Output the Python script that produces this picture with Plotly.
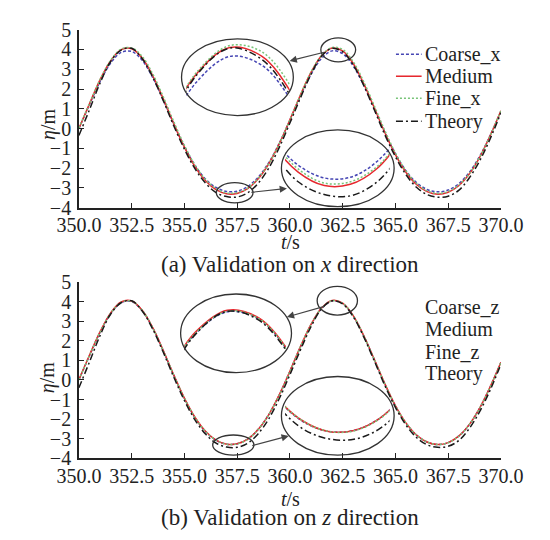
import plotly.graph_objects as go

# ---------------- data ----------------
t_s = [350.0, 350.5, 351.0, 351.5, 352.0, 352.5, 353.0, 353.5, 354.0, 354.5,
       355.0, 355.5, 356.0, 356.5, 357.0, 357.5, 358.0, 358.5, 359.0, 359.5,
       360.0, 360.5, 361.0, 361.5, 362.0, 362.5, 363.0, 363.5, 364.0, 364.5,
       365.0, 365.5, 366.0, 366.5, 367.0, 367.5, 368.0, 368.5, 369.0, 369.5, 370.0]

coarse_x = [0.00, 1.21, 2.37, 3.30, 3.85, 3.90, 3.45, 2.58, 1.45, 0.23,
            -0.91, -1.85, -2.55, -2.98, -3.18, -3.17, -2.93, -2.45, -1.72, -0.73,
            0.42, 1.64, 2.74, 3.55, 3.93, 3.79, 3.17, 2.19, 1.01, -0.19,
            -1.27, -2.13, -2.73, -3.08, -3.20, -3.11, -2.79, -2.22, -1.39, -0.33, 0.87]
medium = [0.00, 1.25, 2.46, 3.42, 3.99, 4.04, 3.57, 2.67, 1.50, 0.24,
          -0.94, -1.92, -2.64, -3.09, -3.30, -3.28, -3.04, -2.54, -1.78, -0.76,
          0.44, 1.70, 2.84, 3.68, 4.07, 3.93, 3.29, 2.27, 1.05, -0.20,
          -1.32, -2.21, -2.83, -3.19, -3.32, -3.22, -2.89, -2.30, -1.44, -0.34, 0.90]
fine_x = [0.02, 1.26, 2.47, 3.44, 4.02, 4.08, 3.65, 2.76, 1.60, 0.34,
          -0.85, -1.84, -2.58, -3.04, -3.26, -3.24, -3.01, -2.52, -1.77, -0.76,
          0.44, 1.70, 2.85, 3.70, 4.10, 4.00, 3.38, 2.37, 1.15, -0.10,
          -1.23, -2.14, -2.78, -3.15, -3.28, -3.19, -2.87, -2.29, -1.44, -0.35, 0.90]
theory = [-0.35, 0.95, 2.30, 3.38, 3.97, 4.06, 3.53, 2.60, 1.41, 0.13,
          -1.04, -2.03, -2.76, -3.24, -3.44, -3.46, -3.25, -2.76, -2.00, -0.95,
          0.28, 1.55, 2.74, 3.66, 4.06, 3.88, 3.22, 2.18, 0.95, -0.31,
          -1.42, -2.33, -2.97, -3.34, -3.47, -3.42, -3.13, -2.50, -1.62, -0.50, 0.80]

coarse_z = [0.01, 1.24, 2.44, 3.40, 3.96, 4.02, 3.56, 2.66, 1.49, 0.23,
            -0.95, -1.93, -2.64, -3.09, -3.29, -3.27, -3.03, -2.53, -1.77, -0.76,
            0.44, 1.69, 2.82, 3.66, 4.05, 3.92, 3.28, 2.26, 1.04, -0.21,
            -1.33, -2.21, -2.83, -3.18, -3.31, -3.21, -2.88, -2.29, -1.43, -0.34, 0.89]
medium_z = [0.02, 1.27, 2.47, 3.43, 4.00, 4.05, 3.58, 2.68, 1.51, 0.25,
            -0.93, -1.91, -2.63, -3.08, -3.29, -3.27, -3.03, -2.53, -1.77, -0.75,
            0.45, 1.71, 2.85, 3.69, 4.08, 3.94, 3.30, 2.28, 1.06, -0.19,
            -1.31, -2.20, -2.82, -3.18, -3.31, -3.21, -2.88, -2.29, -1.43, -0.33, 0.91]
fine_z = [0.00, 1.25, 2.45, 3.41, 3.98, 4.04, 3.57, 2.67, 1.50, 0.24,
          -0.94, -1.92, -2.63, -3.08, -3.29, -3.28, -3.04, -2.54, -1.78, -0.77,
          0.43, 1.70, 2.83, 3.67, 4.06, 3.93, 3.29, 2.27, 1.05, -0.20,
          -1.32, -2.20, -2.82, -3.18, -3.31, -3.22, -2.89, -2.30, -1.44, -0.35, 0.89]
theory_z = [-0.40, 0.92, 2.27, 3.37, 3.96, 4.06, 3.54, 2.61, 1.42, 0.14,
            -1.05, -2.04, -2.77, -3.24, -3.44, -3.45, -3.24, -2.75, -1.99, -0.95,
            0.27, 1.54, 2.73, 3.65, 4.06, 3.90, 3.25, 2.21, 0.98, -0.28,
            -1.40, -2.31, -2.95, -3.32, -3.45, -3.40, -3.11, -2.49, -1.61, -0.50, 0.80]

x_ticks = [350.0, 352.5, 355.0, 357.5, 360.0, 362.5, 365.0, 367.5, 370.0]
y_ticks = [-4, -3, -2, -1, 0, 1, 2, 3, 4, 5]

names_a = ["Coarse_x", "Medium", "Fine_x", "Theory"]
names_b = ["Coarse_z", "Medium", "Fine_z", "Theory"]
series_a = [coarse_x, medium, fine_x, theory]
series_b = [coarse_z, medium_z, fine_z, theory_z]

colors = ["#4646b4", "#e6282e", "#78c478", "#1a1a1a"]
dashes = ["3px,2px", "solid", "2px,2px", "7px,3px,2px,3px"]

# ---------------- layout helpers ----------------
W, H = 550, 540
FONT = "Liberation Serif"
INK = "#222"


def px_x(p):
    return p / W


def px_y(p):
    return 1 - p / H


fig = go.Figure()

panels = [
    ("x", "y", series_a, names_a),
    ("x2", "y2", series_b, names_b),
    ("x3", "y3", series_a, names_a),
    ("x4", "y4", series_a, names_a),
    ("x5", "y5", series_b, names_b),
    ("x6", "y6", series_b, names_b),
]

for xa, ya, ser, nms in panels:
    for i, (vals, nm) in enumerate(zip(ser, nms)):
        fig.add_trace(go.Scatter(
            x=t_s, y=vals, name=nm, mode="lines",
            line=dict(color=colors[i], width=1.5, dash=dashes[i], shape="spline"),
            xaxis=xa, yaxis=ya, showlegend=False, hoverinfo="skip"))

main_x = dict(range=[350, 370], tickvals=x_ticks, tickformat=".1f",
              ticks="inside", ticklen=5, tickwidth=1.2, tickcolor=INK,
              showline=True, linecolor=INK, linewidth=1.5, mirror=False,
              showgrid=False, zeroline=False,
              tickfont=dict(family=FONT, size=20, color=INK),
              ticklabelstandoff=-1)
main_y = dict(range=[-4, 5], tickvals=y_ticks,
              ticks="inside", ticklen=5, tickwidth=1.2, tickcolor=INK,
              showline=True, linecolor=INK, linewidth=1.5, mirror=False,
              showgrid=False, zeroline=False,
              tickfont=dict(family=FONT, size=20, color=INK),
              ticklabelstandoff=2)

dom_x = [px_x(61), px_x(521.5)]
inset_common = dict(visible=False, showgrid=False, zeroline=False)

fig.update_layout(
    width=W, height=H, margin=dict(l=0, r=0, t=0, b=0),
    paper_bgcolor="white", plot_bgcolor="rgba(0,0,0,0)",
    font=dict(family=FONT, color=INK),
    showlegend=False,
    xaxis=dict(domain=dom_x, anchor="y", **main_x),
    yaxis=dict(domain=[px_y(205), px_y(19.5)], anchor="x", **main_y),
    xaxis2=dict(domain=dom_x, anchor="y2", **main_x),
    yaxis2=dict(domain=[px_y(466), px_y(283)], anchor="x2", **main_y),
    # insets (zoomed views)
    xaxis3=dict(domain=[px_x(178), px_x(291)], range=[361.32, 362.93], anchor="y3", **inset_common),
    yaxis3=dict(domain=[px_y(88), px_y(34)], range=[3.32, 4.13], anchor="x3", **inset_common),
    xaxis4=dict(domain=[px_x(286), px_x(400)], range=[356.25, 358.25], anchor="y4", **inset_common),
    yaxis4=dict(domain=[px_y(200), px_y(140)], range=[-3.57, -2.67], anchor="x4", **inset_common),
    xaxis5=dict(domain=[px_x(176), px_x(287)], range=[361.32, 362.93], anchor="y5", **inset_common),
    yaxis5=dict(domain=[px_y(356), px_y(309)], range=[3.32, 4.13], anchor="x5", **inset_common),
    xaxis6=dict(domain=[px_x(286), px_x(400)], range=[356.15, 358.2], anchor="y6", **inset_common),
    yaxis6=dict(domain=[px_y(462), px_y(398)], range=[-3.75, -2.51], anchor="x6", **inset_common),
)

# ellipses (pixel boxes: x0, x1, y0, y1)
ellipses = [
    (173, 295, 29, 109), (325, 363, 28, 53),
    (282, 405, 124, 204), (211, 251, 179, 200),
    (172, 293, 295, 377), (321, 365, 287, 317),
    (282, 405, 381, 463), (207, 252, 442, 463),
]
for x0, x1, y0, y1 in ellipses:
    fig.add_shape(type="circle", xref="paper", yref="paper",
                  x0=px_x(x0), x1=px_x(x1), y0=px_y(y1), y1=px_y(y0),
                  line=dict(color="#333", width=1.3))

# arrows: (head x, head y, tail x, tail y) in pixels
arrows = [
    (291, 52, 327, 43),
    (288, 185, 251, 189),
    (288, 319, 327, 308),
    (290, 443, 252, 453),
]
for hx, hy, tx, ty in arrows:
    fig.add_annotation(x=px_x(hx), y=px_y(hy), xref="paper", yref="paper",
                       ax=tx - hx, ay=ty - hy, axref="pixel", ayref="pixel",
                       text="", showarrow=True, arrowhead=2, arrowsize=1.2,
                       arrowwidth=1.2, arrowcolor="#444")

# legend of panel (a): line sample + label
legend_rows_a = [45, 68, 91, 115]
for i, (nm, y) in enumerate(zip(names_a, legend_rows_a)):
    fig.add_shape(type="line", xref="paper", yref="paper",
                  x0=px_x(407), x1=px_x(435), y0=px_y(y), y1=px_y(y),
                  line=dict(color=colors[i], width=1.5, dash=dashes[i]))
    fig.add_annotation(text=nm, x=px_x(437), y=px_y(y), xref="paper", yref="paper",
                       showarrow=False, xanchor="left", yanchor="middle",
                       font=dict(family=FONT, size=20, color=INK))

# legend of panel (b): text only
for nm, y in zip(names_b, [309, 332, 355, 378]):
    fig.add_annotation(text=nm, x=px_x(437), y=px_y(y), xref="paper", yref="paper",
                       showarrow=False, xanchor="left", yanchor="middle",
                       font=dict(family=FONT, size=20, color=INK))

# axis titles and captions
texts = [
    ("<i>t</i>/s", 292, 241, 20),
    ("<i>t</i>/s", 292, 509, 20),
    ("(a) Validation on <i>x</i> direction", 291, 264, 23),
    ("(b) Validation on <i>z</i> direction", 291, 528, 23),
]
for txt, x, y, s in texts:
    fig.add_annotation(text=txt, x=px_x(x), y=px_y(y), xref="paper", yref="paper",
                       showarrow=False, xanchor="center", yanchor="middle",
                       font=dict(family=FONT, size=s, color=INK))

for y in (118, 382):
    fig.add_annotation(text="<i>η</i>/m", x=px_x(27), y=px_y(y), xref="paper", yref="paper",
                       showarrow=False, textangle=-90, xanchor="center", yanchor="middle",
                       font=dict(family=FONT, size=20, color=INK))

fig.write_html("out.html")
